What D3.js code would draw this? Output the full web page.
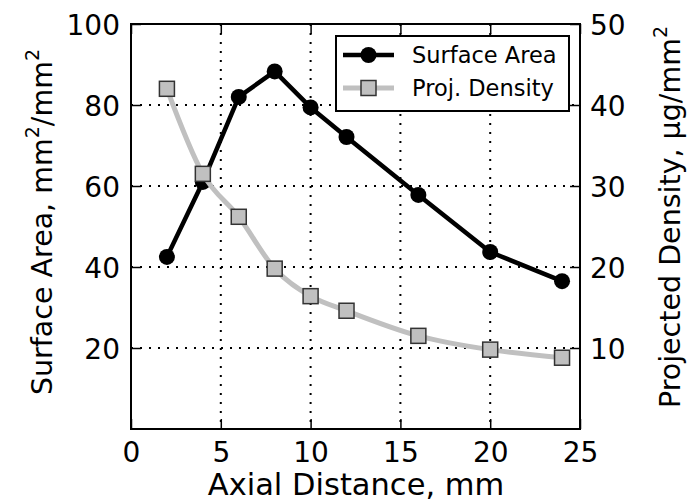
<!DOCTYPE html>
<html>
<head>
<meta charset="utf-8">
<script src="https://cdn.jsdelivr.net/npm/d3@7"></script>
<style>
  body { margin: 0; background: #fff; overflow: hidden; }
  text { font-family: "DejaVu Sans", sans-serif; fill: #000; }
</style>
</head>
<body>
<div id="chart"></div>
<script>
// data
const distance = [2, 4, 6, 8, 10, 12, 16, 20, 24];
const surfaceArea = [42.5, 61, 82, 88.3, 79.4, 72.1, 57.8, 43.7, 36.5];
const projDensity = [42.0, 31.5, 26.2, 19.8, 16.4, 14.6, 11.5, 9.8, 8.8];
const xTicks = [0, 5, 10, 15, 20, 25];
const leftTicks = [20, 40, 60, 80, 100];
const rightTicks = [10, 20, 30, 40, 50];

const W = 687, H = 502;
const margin = { top: 24, right: 107, bottom: 73, left: 131 };
const width = W - margin.left - margin.right;
const height = H - margin.top - margin.bottom;

const svg = d3.select('#chart').append('svg')
  .attr('width', W)
  .attr('height', H)
  .style('display', 'block');

const g = svg.append('g')
  .attr('transform', `translate(${margin.left}, ${margin.top})`);

const x = d3.scaleLinear().domain([0, 25]).range([0, width]);
const yLeft = d3.scaleLinear().domain([0, 100]).range([height, 0]);
const yRight = d3.scaleLinear().domain([0, 50]).range([height, 0]);

// grid
g.append('g')
  .selectAll('line')
  .data(xTicks.slice(1, -1))
  .join('line')
  .attr('x1', d => x(d)).attr('x2', d => x(d))
  .attr('y1', 0).attr('y2', height)
  .attr('stroke', '#000')
  .attr('stroke-width', 2)
  .attr('stroke-dasharray', '2,7');

g.append('g')
  .selectAll('line')
  .data(leftTicks.slice(0, -1))
  .join('line')
  .attr('x1', 0).attr('x2', width)
  .attr('y1', d => yLeft(d)).attr('y2', d => yLeft(d))
  .attr('stroke', '#000')
  .attr('stroke-width', 2)
  .attr('stroke-dasharray', '2,7');

// axes, ticks inward
const tickLen = 10;
const fontSize = 28;

const styleAxis = (sel) => {
  sel.select('.domain').remove();
  sel.selectAll('.tick line').attr('stroke', '#000').attr('stroke-width', 1.5);
  sel.selectAll('.tick text')
    .attr('font-size', fontSize)
    .attr('font-family', '"DejaVu Sans", sans-serif');
};

g.append('g')
  .attr('transform', `translate(0, ${height})`)
  .call(d3.axisBottom(x).tickValues(xTicks).tickSizeInner(-tickLen).tickPadding(13))
  .call(styleAxis);

g.append('g')
  .call(d3.axisTop(x).tickValues(xTicks).tickSizeInner(-tickLen).tickFormat(''))
  .call(styleAxis);

g.append('g')
  .call(d3.axisLeft(yLeft).tickValues(leftTicks).tickSizeInner(-tickLen).tickPadding(11))
  .call(styleAxis)
  .selectAll('.tick text').attr('dy', '0.36em');

g.append('g')
  .attr('transform', `translate(${width}, 0)`)
  .call(d3.axisRight(yRight).tickValues(rightTicks).tickSizeInner(-tickLen).tickPadding(10))
  .call(styleAxis)
  .selectAll('.tick text').attr('dy', '0.36em');

// frame
g.append('rect')
  .attr('width', width)
  .attr('height', height)
  .attr('fill', 'none')
  .attr('stroke', '#000')
  .attr('stroke-width', 2);

// surface area series
const rows = distance.map((d, i) => ({ x: d, sa: surfaceArea[i], pd: projDensity[i] }));

g.append('path')
  .datum(rows)
  .attr('fill', 'none')
  .attr('stroke', '#000')
  .attr('stroke-width', 4.5)
  .attr('stroke-linejoin', 'round')
  .attr('d', d3.line().x(d => x(d.x)).y(d => yLeft(d.sa)));

g.append('g')
  .selectAll('circle')
  .data(rows)
  .join('circle')
  .attr('cx', d => x(d.x))
  .attr('cy', d => yLeft(d.sa))
  .attr('r', 8)
  .attr('fill', '#000');

// projected density series
g.append('path')
  .datum(rows)
  .attr('fill', 'none')
  .attr('stroke', '#c0c0c0')
  .attr('stroke-width', 5)
  .attr('d', d3.line().curve(d3.curveMonotoneX).x(d => x(d.x)).y(d => yRight(d.pd)));

const sq = 15;
g.append('g')
  .selectAll('rect')
  .data(rows)
  .join('rect')
  .attr('x', d => x(d.x) - sq / 2)
  .attr('y', d => yRight(d.pd) - sq / 2)
  .attr('width', sq)
  .attr('height', sq)
  .attr('fill', '#c0c0c0')
  .attr('stroke', '#333')
  .attr('stroke-width', 1.5);

// legend
const legend = g.append('g')
  .attr('transform', `translate(${336 - margin.left}, ${36 - margin.top})`);

legend.append('rect')
  .attr('width', 233)
  .attr('height', 75)
  .attr('fill', '#fff')
  .attr('stroke', '#000')
  .attr('stroke-width', 2);

const items = [
  { label: 'Surface Area', color: '#000', width: 4.5, marker: 'circle' },
  { label: 'Proj. Density', color: '#c0c0c0', width: 5, marker: 'square' }
];

items.forEach((item, i) => {
  const row = legend.append('g').attr('transform', `translate(0, ${19 + i * 33})`);
  row.append('line')
    .attr('x1', 7).attr('x2', 58)
    .attr('stroke', item.color)
    .attr('stroke-width', item.width);
  if (item.marker === 'circle') {
    row.append('circle').attr('cx', 32.5).attr('r', 8).attr('fill', '#000');
  } else {
    row.append('rect')
      .attr('x', 32.5 - sq / 2).attr('y', -sq / 2)
      .attr('width', sq).attr('height', sq)
      .attr('fill', '#c0c0c0')
      .attr('stroke', '#333')
      .attr('stroke-width', 1.5);
  }
  row.append('text')
    .attr('x', 76)
    .attr('dy', '0.36em')
    .attr('font-size', 22.5)
    .text(item.label);
});

// axis labels
svg.append('text')
  .attr('x', 356)
  .attr('y', 495)
  .attr('text-anchor', 'middle')
  .attr('font-size', 30.5)
  .text('Axial Distance, mm');

const labelSize = 28.5;
const supSize = 19;

const leftLabel = svg.append('text')
  .attr('transform', `translate(52, 222) rotate(-90)`)
  .attr('text-anchor', 'middle')
  .attr('font-size', labelSize);
leftLabel.append('tspan').text('Surface Area, mm');
leftLabel.append('tspan').attr('font-size', supSize).attr('dy', -13).text('2');
leftLabel.append('tspan').attr('dy', 13).text('/mm');
leftLabel.append('tspan').attr('font-size', supSize).attr('dy', -13).text('2');

const rightLabel = svg.append('text')
  .attr('transform', `translate(680, 217) rotate(-90)`)
  .attr('text-anchor', 'middle')
  .attr('font-size', labelSize);
rightLabel.append('tspan').text('Projected Density, \u00b5g/mm');
rightLabel.append('tspan').attr('font-size', supSize).attr('dy', -13).text('2');
</script>
</body>
</html>
